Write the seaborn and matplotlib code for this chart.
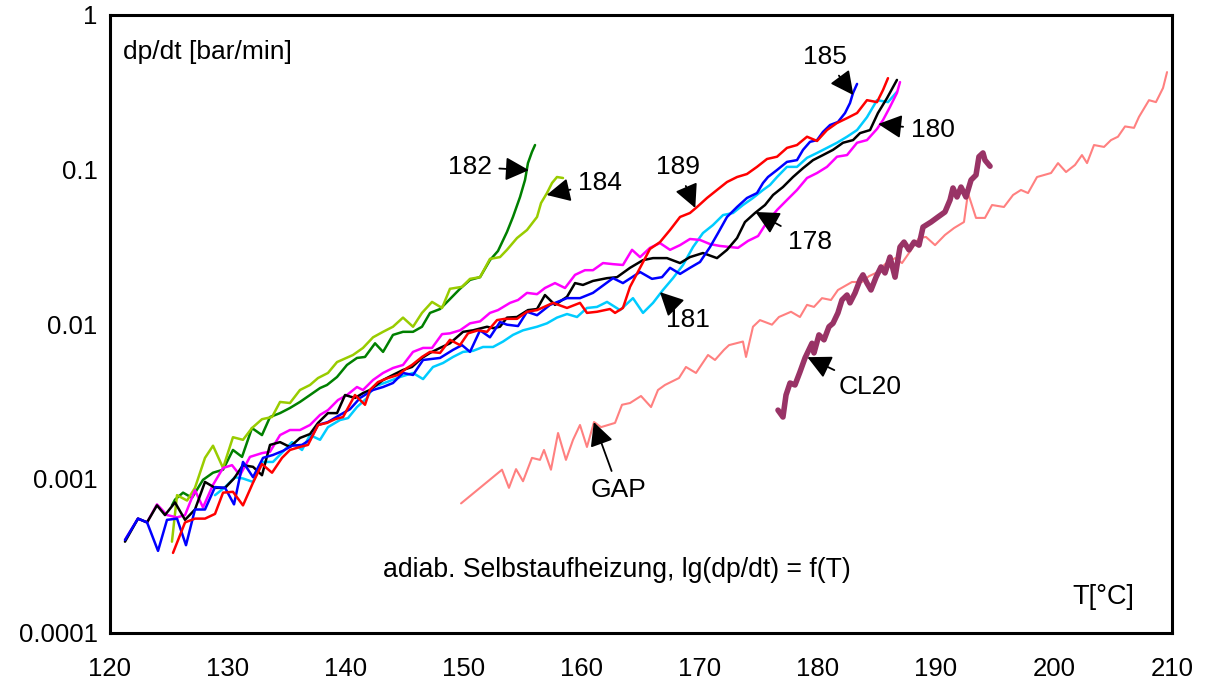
import matplotlib
matplotlib.use("Agg")
import matplotlib.pyplot as plt
from matplotlib.ticker import FixedLocator, NullLocator
import numpy as np
import pandas as pd
import seaborn as sns

# ---- measured runs: temperature [°C] and pressure rise rate [bar/min] ----
t_182 = [125.25, 125.51, 126.19, 126.95, 127.88, 128.73, 129.58, 130.42, 131.19, 132.03,
         132.88, 133.56, 134.41, 135.25, 136.10, 136.95, 137.80, 138.39, 139.24, 140.08,
         140.93, 141.61, 142.46, 143.14, 143.98, 144.83, 145.68, 146.44, 147.12, 147.97,
         148.81, 149.66, 150.51, 151.36, 152.20, 152.88, 153.64, 154.15, 154.75, 155.17,
         155.42, 155.76, 156.02]
v_182 = [0.00067, 0.00073, 0.00081, 0.00075, 0.00098, 0.00109, 0.00114, 0.00153, 0.00138, 0.00212,
         0.00191, 0.0025, 0.00265, 0.00286, 0.00313, 0.00347, 0.00385, 0.00403, 0.00454, 0.00543,
         0.00603, 0.00612, 0.0075, 0.0066, 0.0085, 0.0089, 0.0089, 0.0096, 0.0118, 0.0125,
         0.0145, 0.0169, 0.0193, 0.0201, 0.0259, 0.0297, 0.0394, 0.0493, 0.0664, 0.0855,
         0.11, 0.13, 0.144]

t_184 = [125.25, 125.68, 126.53, 127.20, 128.05, 128.73, 129.58, 130.42, 131.27, 132.03,
         132.88, 133.73, 134.41, 135.25, 136.10, 136.95, 137.63, 138.47, 139.24, 140.59,
         141.44, 142.29, 143.14, 143.98, 144.83, 145.68, 146.44, 147.29, 148.14, 148.81,
         149.83, 150.51, 151.36, 152.20, 153.05, 153.64, 154.49, 155.34, 156.19, 156.53,
         157.03, 157.46, 157.88, 158.39]
v_184 = [0.00039, 0.00078, 0.00072, 0.00087, 0.00136, 0.00163, 0.00117, 0.00185, 0.00178, 0.00212,
         0.00242, 0.0025, 0.00313, 0.00308, 0.00374, 0.00403, 0.00447, 0.00482, 0.00567, 0.0063,
         0.007, 0.0082, 0.0089, 0.0096, 0.011, 0.0096, 0.0118, 0.0139, 0.0127, 0.0169,
         0.0174, 0.0196, 0.0201, 0.0264, 0.0271, 0.0302, 0.036, 0.0406, 0.0493, 0.0607,
         0.0704, 0.0818, 0.0894, 0.0881]

t_181 = [128.90, 129.75, 130.59, 131.27, 132.12, 132.88, 133.81, 134.66, 135.42, 136.27,
         136.95, 137.80, 138.47, 139.49, 140.17, 140.93, 141.78, 142.29, 143.47, 144.58,
         145.68, 146.53, 147.37, 148.22, 149.07, 149.92, 150.76, 151.61, 152.46, 153.31,
         154.15, 155.00, 156.19, 157.03, 157.88, 158.73, 159.58, 160.42, 161.27, 162.12,
         163.22, 164.32, 165.17, 166.02, 166.86, 167.71, 168.56, 169.41, 170.25, 171.10,
         171.95, 172.80, 173.64, 174.49, 175.34, 175.93, 176.53, 177.37, 178.22, 179.07,
         179.92, 180.76, 181.61, 182.46, 183.31, 184.15, 185.00, 185.93, 186.69]
v_181 = [0.00078, 0.00088, 0.00102, 0.001, 0.00095, 0.00128, 0.00128, 0.00149, 0.00172, 0.00153,
         0.00191, 0.00178, 0.00215, 0.00239, 0.00246, 0.0029, 0.00332, 0.00391, 0.00421, 0.00454,
         0.00482, 0.0044, 0.00527, 0.00559, 0.00612, 0.0066, 0.0067, 0.0071, 0.0071, 0.0077,
         0.0085, 0.0091, 0.0096, 0.0101, 0.011, 0.0116, 0.0111, 0.0127, 0.0129, 0.0139,
         0.0123, 0.0147, 0.0118, 0.0137, 0.0166, 0.0198, 0.0241, 0.0315, 0.0388, 0.0437,
         0.0507, 0.0523, 0.0589, 0.0654, 0.0737, 0.0794, 0.0894, 0.104, 0.104, 0.119,
         0.128, 0.138, 0.149, 0.163, 0.18, 0.218, 0.281, 0.273, 0.318]

t_180 = [121.27, 122.37, 123.14, 123.98, 124.83, 125.68, 126.36, 127.20, 127.88, 128.73,
         129.58, 130.34, 131.02, 131.86, 132.88, 133.56, 134.41, 135.25, 136.10, 136.95,
         137.80, 138.47, 139.32, 140.08, 140.93, 141.44, 142.29, 143.14, 143.98, 144.83,
         145.68, 146.53, 147.29, 148.14, 148.81, 149.66, 150.51, 151.36, 152.20, 152.88,
         153.90, 154.58, 155.34, 156.19, 156.86, 157.71, 158.56, 159.41, 160.25, 160.93,
         161.78, 162.63, 163.47, 164.24, 164.92, 165.76, 166.61, 167.46, 168.31, 169.15,
         170.00, 170.85, 171.69, 172.54, 173.22, 174.07, 174.92, 175.68, 176.53, 177.37,
         178.22, 179.07, 179.92, 180.76, 181.61, 182.46, 183.31, 184.15, 185.00, 185.51,
         186.10, 186.69, 186.95]
v_180 = [0.0004, 0.00055, 0.00052, 0.00068, 0.00058, 0.00056, 0.00058, 0.00084, 0.00065, 0.00091,
         0.00117, 0.00122, 0.00105, 0.00138, 0.00146, 0.00149, 0.00191, 0.00206, 0.00206, 0.00222,
         0.00258, 0.00277, 0.00322, 0.00347, 0.00391, 0.00374, 0.00434, 0.00482, 0.00519, 0.00543,
         0.0066, 0.007, 0.007, 0.0086, 0.0087, 0.0091, 0.0101, 0.0104, 0.0118, 0.0123,
         0.0137, 0.0143, 0.0159, 0.0156, 0.0171, 0.0184, 0.0171, 0.0208, 0.0223, 0.0223,
         0.0248, 0.0244, 0.0241, 0.0302, 0.0271, 0.0311, 0.0334, 0.0302, 0.0324, 0.0355,
         0.035, 0.0329, 0.032, 0.0315, 0.0311, 0.0345, 0.0371, 0.0457, 0.0547, 0.0635,
         0.0737, 0.0881, 0.0949, 0.104, 0.121, 0.124, 0.149, 0.155, 0.183, 0.209,
         0.254, 0.313, 0.368]

t_178 = [121.27, 122.37, 123.14, 123.98, 124.66, 125.51, 126.36, 127.20, 128.05, 128.90,
         129.75, 130.51, 131.27, 132.12, 132.88, 133.56, 134.41, 135.25, 136.10, 136.95,
         137.63, 138.47, 139.24, 139.92, 140.76, 141.44, 142.03, 143.14, 143.98, 144.83,
         145.59, 146.44, 147.12, 147.97, 148.81, 149.92, 150.76, 151.95, 152.46, 153.05,
         153.64, 154.49, 155.42, 156.19, 156.86, 157.71, 158.73, 159.41, 160.08, 160.93,
         162.12, 162.97, 164.07, 165.17, 166.02, 167.20, 168.31, 169.15, 170.25, 171.44,
         172.29, 173.14, 173.81, 174.66, 175.51, 176.19, 177.03, 177.88, 178.73, 179.58,
         180.42, 181.27, 182.12, 182.97, 183.56, 184.41, 185.08, 185.85, 186.69]
v_178 = [0.00039, 0.00055, 0.00052, 0.00067, 0.00058, 0.0007, 0.00054, 0.00063, 0.00095, 0.00087,
         0.00087, 0.001, 0.00122, 0.00119, 0.00105, 0.00165, 0.00172, 0.0016, 0.00183, 0.00194,
         0.00229, 0.00265, 0.00265, 0.00347, 0.00332, 0.00357, 0.00374, 0.00434, 0.00468, 0.00504,
         0.00527, 0.00603, 0.0065, 0.007, 0.0075, 0.0089, 0.0091, 0.0096, 0.0094, 0.0096,
         0.011, 0.0111, 0.0123, 0.0125, 0.0154, 0.0133, 0.015, 0.0184, 0.0179, 0.019,
         0.0198, 0.0201, 0.0231, 0.0259, 0.0267, 0.0267, 0.0248, 0.0271, 0.0288, 0.0267,
         0.0302, 0.036, 0.0457, 0.0523, 0.0589, 0.0684, 0.077, 0.0894, 0.102, 0.115,
         0.124, 0.134, 0.149, 0.155, 0.172, 0.18, 0.232, 0.29, 0.38]

t_185 = [121.27, 122.37, 123.14, 124.07, 124.83, 125.68, 126.44, 127.20, 128.05, 128.90,
         129.75, 130.51, 131.27, 132.12, 132.97, 133.81, 134.66, 135.42, 136.27, 136.95,
         137.63, 138.47, 139.49, 140.34, 141.19, 142.29, 143.14, 143.98, 144.83, 145.68,
         146.53, 147.97, 149.07, 149.83, 150.51, 151.36, 152.20, 153.05, 153.64, 154.58,
         155.34, 156.19, 157.29, 158.73, 159.83, 160.93, 162.63, 163.47, 164.92, 165.93,
         166.78, 167.46, 168.31, 169.15, 170.00, 170.85, 171.53, 172.29, 173.14, 173.98,
         174.83, 175.34, 175.76, 176.53, 177.37, 178.22, 178.73, 179.32, 179.92, 180.42,
         181.02, 181.69, 182.29, 182.71, 182.97, 183.31]
v_185 = [0.0004, 0.00055, 0.00052, 0.00034, 0.00054, 0.00055, 0.00037, 0.00063, 0.00063, 0.00088,
         0.00087, 0.00068, 0.00128, 0.00102, 0.00136, 0.00142, 0.00151, 0.00163, 0.00165, 0.00178,
         0.00222, 0.00232, 0.00258, 0.00281, 0.00332, 0.00374, 0.00391, 0.00415, 0.00482, 0.00468,
         0.00585, 0.00603, 0.0068, 0.0073, 0.0066, 0.0091, 0.0082, 0.0103, 0.0099, 0.0097,
         0.012, 0.0114, 0.0133, 0.0147, 0.0147, 0.0159, 0.0198, 0.0184, 0.0217, 0.0196,
         0.0201, 0.0231, 0.0211, 0.0231, 0.0252, 0.0315, 0.0388, 0.0493, 0.0572, 0.0654,
         0.0704, 0.0818, 0.0894, 0.0993, 0.112, 0.115, 0.134, 0.151, 0.155, 0.175,
         0.194, 0.203, 0.232, 0.269, 0.313, 0.358]

t_189 = [125.34, 126.36, 127.20, 128.05, 128.90, 129.58, 130.42, 131.27, 132.12, 132.88,
         133.73, 134.58, 135.25, 136.10, 136.78, 137.63, 138.39, 139.07, 139.75, 140.76,
         141.61, 142.03, 142.71, 143.56, 144.41, 145.17, 145.59, 146.44, 147.12, 147.97,
         148.81, 149.66, 150.34, 151.19, 151.95, 152.80, 153.47, 154.49, 155.34, 156.19,
         157.54, 158.73, 159.83, 160.42, 161.27, 162.37, 162.80, 163.47, 164.07, 164.92,
         165.76, 166.61, 167.46, 168.31, 169.15, 169.75, 170.59, 171.44, 172.29, 173.14,
         173.98, 174.83, 175.68, 176.53, 177.37, 178.22, 179.07, 179.92, 180.76, 181.61,
         182.46, 183.31, 184.15, 185.00, 185.51, 185.93]
v_189 = [0.00033, 0.00052, 0.00055, 0.00055, 0.00059, 0.00081, 0.00082, 0.00067, 0.00094, 0.00124,
         0.00109, 0.00136, 0.00153, 0.0016, 0.00165, 0.00222, 0.00229, 0.00242, 0.0025, 0.00347,
         0.003, 0.00374, 0.00421, 0.00447, 0.00468, 0.00519, 0.00543, 0.00612, 0.0066, 0.0065,
         0.0079, 0.0073, 0.0087, 0.0091, 0.0089, 0.0106, 0.0108, 0.0108, 0.012, 0.0123,
         0.0137, 0.0127, 0.0137, 0.0118, 0.012, 0.0125, 0.0118, 0.0127, 0.0174, 0.0231,
         0.0306, 0.0339, 0.0406, 0.0493, 0.0523, 0.0572, 0.0654, 0.0737, 0.083, 0.0894,
         0.0935, 0.104, 0.117, 0.121, 0.138, 0.144, 0.163, 0.153, 0.18, 0.2,
         0.215, 0.232, 0.281, 0.273, 0.327, 0.39]

t_gap = [149.75, 153.22, 153.81, 154.41, 155.00, 155.76, 156.44, 156.78, 157.37, 157.97,
         158.64, 159.24, 159.83, 160.42, 161.02, 161.61, 162.80, 163.39, 164.07, 165.00,
         165.85, 166.44, 167.03, 168.22, 168.81, 169.66, 170.68, 171.27, 172.03, 172.46,
         173.64, 173.90, 174.49, 175.08, 176.10, 176.69, 177.71, 178.47, 179.07, 179.66,
         180.34, 181.10, 181.69, 182.88, 183.73, 184.32, 185.08, 185.68, 186.53, 187.12,
         187.71, 188.56, 189.15, 189.92, 190.76, 191.53, 192.37, 192.71, 193.39, 194.15,
         194.75, 195.76, 196.53, 197.20, 197.80, 198.56, 199.75, 200.34, 201.02, 201.78,
         202.37, 202.80, 203.39, 204.24, 204.83, 205.42, 206.02, 206.78, 207.20, 208.05,
         208.64, 209.24, 209.58]
v_gap = [0.00069, 0.00114, 0.00087, 0.00115, 0.00096, 0.00136, 0.00132, 0.00153, 0.00114, 0.00197,
         0.00132, 0.00178, 0.00222, 0.0016, 0.00232, 0.00215, 0.00229, 0.003, 0.00308, 0.00342,
         0.0029, 0.00374, 0.00403, 0.00447, 0.00527, 0.00482, 0.0063, 0.00585, 0.0068, 0.0073,
         0.0077, 0.00612, 0.0096, 0.0106, 0.0099, 0.0111, 0.012, 0.0111, 0.0133, 0.0129,
         0.0147, 0.0143, 0.0166, 0.0187, 0.0187, 0.0204, 0.0217, 0.0244, 0.0267, 0.0248,
         0.0288, 0.036, 0.0366, 0.0324, 0.0377, 0.0418, 0.0457, 0.0704, 0.0486, 0.0486,
         0.0589, 0.0572, 0.0684, 0.0737, 0.0704, 0.0894, 0.0949, 0.11, 0.0963, 0.107,
         0.124, 0.11, 0.144, 0.14, 0.155, 0.163, 0.19, 0.186, 0.219, 0.281,
         0.273, 0.337, 0.427]

t_cl20 = [176.61, 177.03, 177.29, 177.63, 178.05, 178.47, 178.90, 179.49, 179.66, 180.08,
          180.51, 180.93, 181.27, 181.69, 182.03, 182.46, 182.71, 183.14, 183.56, 183.81,
          184.15, 184.49, 184.92, 185.34, 185.68, 186.10, 186.53, 186.95, 187.29, 187.71,
          188.14, 188.56, 188.90, 189.58, 190.17, 190.76, 191.19, 191.44, 191.78, 192.12,
          192.54, 192.97, 193.39, 193.64, 193.98, 194.15, 194.58]
v_cl20 = [0.00277, 0.0025, 0.00347, 0.00415, 0.00403, 0.00489, 0.00603, 0.0075, 0.0065, 0.0085,
          0.0079, 0.0096, 0.0101, 0.0118, 0.0143, 0.0154, 0.0137, 0.0159, 0.0193, 0.0208,
          0.0184, 0.0166, 0.0201, 0.0234, 0.0214, 0.0271, 0.0201, 0.0315, 0.0339, 0.0302,
          0.0339, 0.0324, 0.0424, 0.0457, 0.0493, 0.0531, 0.0635, 0.0759, 0.0664, 0.077,
          0.0664, 0.0855, 0.0921, 0.121, 0.128, 0.115, 0.105]

x_ticks = [120, 130, 140, 150, 160, 170, 180, 190, 200, 210]
y_ticks = [0.0001, 0.001, 0.01, 0.1, 1]
y_tick_labels = ["0.0001", "0.001", "0.01", "0.1", "1"]

# series: (name, T, dp/dt, colour, line width)
series = [
    ("GAP", t_gap, v_gap, "#FF8080", 1.5),
    ("CL20", t_cl20, v_cl20, "#993366", 4.0),
    ("182", t_182, v_182, "#008000", 1.8),
    ("184", t_184, v_184, "#99CC00", 1.8),
    ("181", t_181, v_181, "#00CCFF", 1.8),
    ("180", t_180, v_180, "#FF00FF", 1.8),
    ("178", t_178, v_178, "#000000", 1.8),
    ("185", t_185, v_185, "#0000FF", 1.8),
    ("189", t_189, v_189, "#FF0000", 1.8),
]

# label text position (T, dp/dt) and arrow tip (T, dp/dt)
labels = [
    ("182", (150.5, 0.104), (155.5, 0.099)),
    ("184", (161.5, 0.0818), (157.0, 0.0684)),
    ("189", (168.1, 0.104), (169.6, 0.0563)),
    ("185", (180.6, 0.535), (183.0, 0.303)),
    ("180", (189.7, 0.18), (185.1, 0.197)),
    ("178", (179.3, 0.0339), (174.7, 0.0531)),
    ("181", (169.0, 0.0106), (166.6, 0.0161)),
    ("CL20", (184.4, 0.0039), (179.1, 0.0061)),
    ("GAP", (163.1, 0.00084), (161.0, 0.00232)),
]

sns.set_theme(style="white")
plt.rcParams["font.family"] = ["Liberation Sans", "DejaVu Sans"]

fig = plt.figure(figsize=(12.07, 6.90), dpi=100)
ax = fig.add_axes([110 / 1207, 1 - 633 / 690, 1062 / 1207, 618 / 690])

for name, t, v, col, lw in series:
    df = pd.DataFrame({"T": t, "dpdt": v, "run": name})
    sns.lineplot(data=df, x="T", y="dpdt", color=col, linewidth=lw,
                 estimator=None, sort=False, ax=ax, legend=False)

ax.set_yscale("log")
ax.set_xlim(120, 210)
ax.set_ylim(1e-4, 1)

ax.xaxis.set_major_locator(FixedLocator(x_ticks))
ax.set_xticklabels([str(v) for v in x_ticks])
ax.yaxis.set_major_locator(FixedLocator(y_ticks))
ax.yaxis.set_minor_locator(NullLocator())
ax.set_yticklabels(y_tick_labels)
ax.set_xlabel("")
ax.set_ylabel("")
ax.grid(False)

ax.tick_params(axis="both", which="major", direction="in", length=7, width=1.4,
               colors="black", labelsize=18.5)
ax.tick_params(axis="x", pad=17)
ax.tick_params(axis="y", pad=9)

for s in ax.spines.values():
    s.set_visible(True)
    s.set_color("black")
    s.set_linewidth(2.2)

for txt, xy_text, xy_tip in labels:
    ax.annotate(txt, xy=xy_tip, xytext=xy_text, fontsize=19, color="black",
                ha="center", va="center",
                arrowprops=dict(arrowstyle="-|>,head_length=0.9,head_width=0.45",
                                color="black", lw=1.3, shrinkA=3, shrinkB=0,
                                mutation_scale=16))

ax.text(0.012, 0.940, "dp/dt [bar/min]", transform=ax.transAxes, fontsize=19,
        ha="left", va="center", color="black")
ax.text(0.477, 0.102, "adiab. Selbstaufheizung, lg(dp/dt) = f(T)", transform=ax.transAxes,
        fontsize=19.2, ha="center", va="center", color="black")
ax.text(0.935, 0.058, "T[°C]", transform=ax.transAxes, fontsize=19.5,
        ha="center", va="center", color="black")

fig.savefig("out.png", dpi=100, facecolor="white")
